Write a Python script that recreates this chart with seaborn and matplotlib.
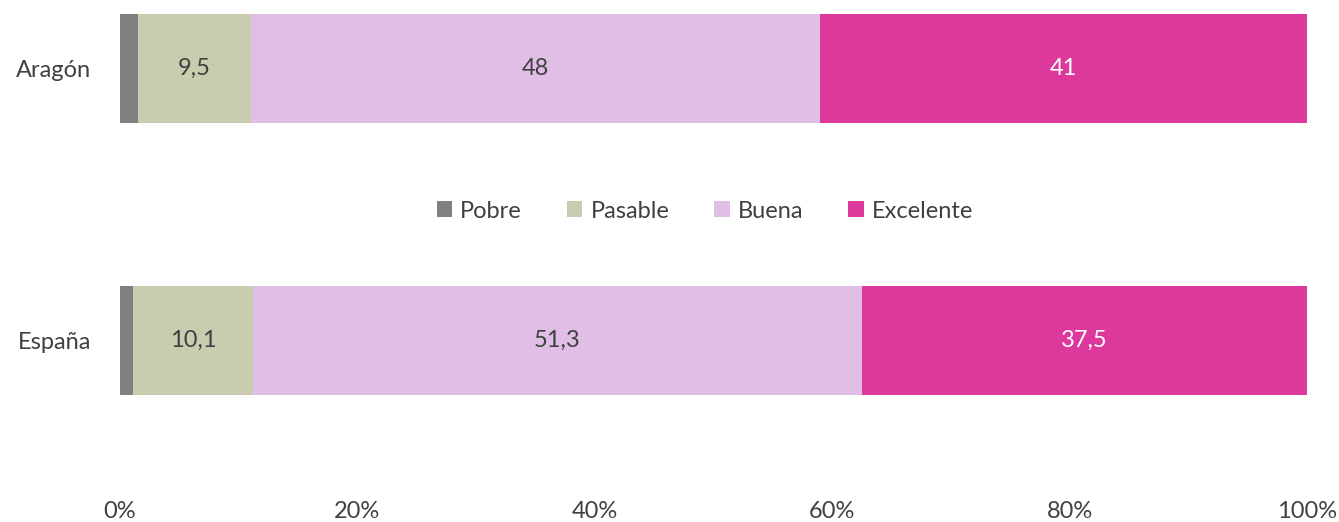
import numpy as np
import pandas as pd
import matplotlib
matplotlib.use('Agg')
import matplotlib.pyplot as plt
import seaborn as sns
from matplotlib.patches import Patch

regions = ['Aragón', 'España']
categories = ['Pobre', 'Pasable', 'Buena', 'Excelente']
pobre = [1.5, 1.1]
pasable = [9.5, 10.1]
buena = [48, 51.3]
excelente = [41, 37.5]
labels_pasable = ['9,5', '10,1']
labels_buena = ['48', '51,3']
labels_excelente = ['41', '37,5']
x_ticks = [0, 20, 40, 60, 80, 100]

colors = {'Pobre': '#808080', 'Pasable': '#c9ccaf',
          'Buena': '#e0bee6', 'Excelente': '#dd389c'}
text_col = '#404040'
fs = 17

sns.set_style('white')
plt.rcParams['font.family'] = ['Lato', 'DejaVu Sans']

df = pd.DataFrame({'region': regions, 'Pobre': pobre, 'Pasable': pasable,
                   'Buena': buena, 'Excelente': excelente})
# share of each row, cumulated left to right
vals = df[categories].div(df[categories].sum(axis=1), axis=0) * 100
cum = vals.cumsum(axis=1)

fig = plt.figure(figsize=(13.39, 5.22), dpi=100)
ax = fig.add_axes([120 / 1339, 1 - 490 / 522, 1187 / 1339, 490 / 522])

# stacked bars: draw cumulative totals from the widest down
for cat in categories[::-1]:
    sns.barplot(x=cum[cat], y=df['region'], color=colors[cat], width=0.4,
                orient='h', ax=ax, saturation=1, linewidth=0)

label_sets = {'Pasable': labels_pasable, 'Buena': labels_buena,
              'Excelente': labels_excelente}
for cat, labs in label_sets.items():
    mid = cum[cat] - vals[cat] / 2
    c = 'white' if cat == 'Excelente' else text_col
    for i, lab in enumerate(labs):
        ax.text(mid[i], i, lab, ha='center', va='center', fontsize=fs, color=c)

ax.set_xlim(0, 100)
ax.set_ylim(1 + 149.5 / 272, -68.5 / 272)
ax.set_xticks(x_ticks)
ax.set_xticklabels([f'{t}%' for t in x_ticks])
ax.set_xlabel('')
ax.set_ylabel('')
ax.tick_params(axis='x', length=0, pad=8, labelsize=fs, labelcolor=text_col)
ax.tick_params(axis='y', length=0, pad=21, labelsize=fs, labelcolor=text_col)
sns.despine(ax=ax, left=True, bottom=True)

handles = [Patch(facecolor=colors[c], edgecolor='none', label=c) for c in categories]
fig.legend(handles=handles, loc='center', bbox_to_anchor=(705 / 1339, 1 - 211 / 522),
           ncol=4, frameon=False, fontsize=fs, handlelength=0.65, handleheight=0.65,
           handletextpad=0.35, columnspacing=1.9, labelcolor=text_col)

fig.savefig('out.png', dpi=100)
